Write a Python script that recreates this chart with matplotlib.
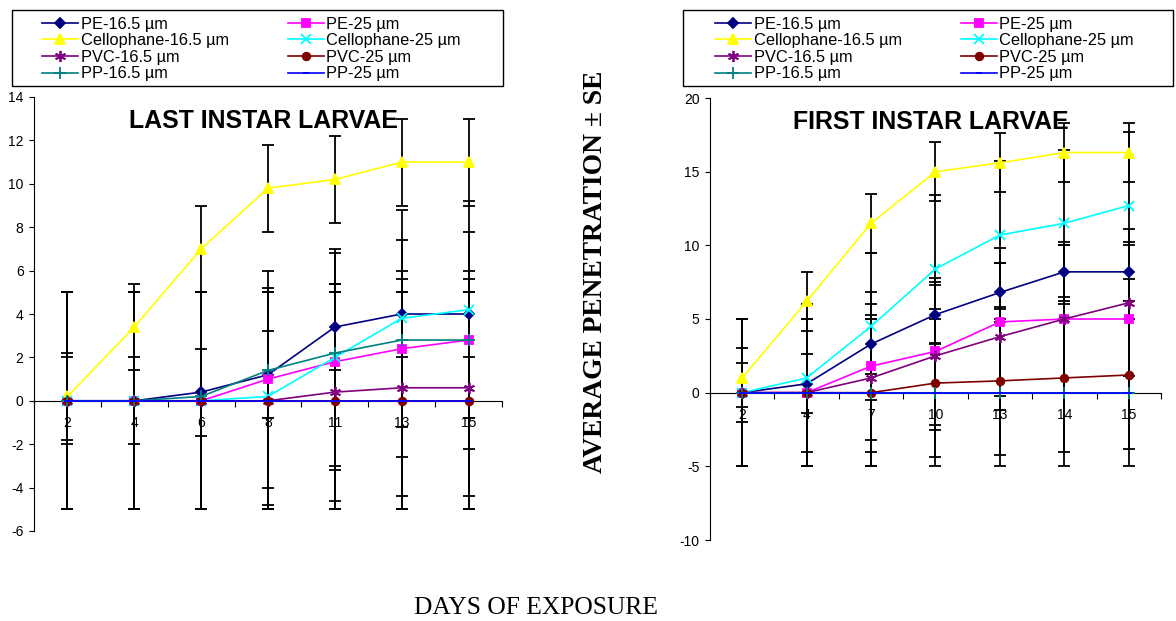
import matplotlib
matplotlib.use('Agg')
import matplotlib.pyplot as plt
import numpy as np
from matplotlib.patches import Rectangle

plt.rcParams['font.family'] = ['Liberation Sans', 'DejaVu Sans']
plt.rcParams['axes.unicode_minus'] = False

# series (Excel plot order)
series = ['PE-16.5 µm', 'PE-25 µm', 'Cellophane-16.5 µm', 'Cellophane-25 µm',
          'PVC-16.5 µm', 'PVC-25 µm', 'PP-16.5 µm', 'PP-25 µm']
colors = ['#000080', '#FF00FF', '#FFFF00', '#00FFFF',
          '#800080', '#800000', '#008080', '#0000FF']
markers = ['D', 's', '^', 'x', (6, 2, 0), 'o', '+', '_']
msizes = [5.5, 5.5, 7, 7, 8, 5.5, 8, 5]

# last instar larvae
last_days = ['2', '4', '6', '8', '11', '13', '15']
last_pe165 = [0, 0, 0.4, 1.2, 3.4, 4.0, 4.0]
last_pe25 = [0, 0, 0, 1.0, 1.8, 2.4, 2.8]
last_cel165 = [0.2, 3.4, 7.0, 9.8, 10.2, 11.0, 11.0]
last_cel25 = [0, 0, 0, 0.2, 2.0, 3.8, 4.2]
last_pvc165 = [0, 0, 0, 0, 0.4, 0.6, 0.6]
last_pvc25 = [0, 0, 0, 0, 0, 0, 0]
last_pp165 = [0, 0, 0.2, 1.4, 2.2, 2.8, 2.8]
last_pp25 = [0, 0, 0, 0, 0, 0, 0]
last_se = [2, 5, 2, 5, 5, 5, None, 5]

# first instar larvae
first_days = ['2', '4', '7', '10', '13', '14', '15']
first_pe165 = [0, 0.6, 3.3, 5.3, 6.8, 8.2, 8.2]
first_pe25 = [0, 0, 1.8, 2.8, 4.8, 5.0, 5.0]
first_cel165 = [1.0, 6.2, 11.5, 15.0, 15.6, 16.3, 16.3]
first_cel25 = [0, 1.0, 4.5, 8.4, 10.7, 11.5, 12.7]
first_pvc165 = [0, 0, 1.0, 2.5, 3.8, 5.0, 6.1]
first_pvc25 = [0, 0, 0, 0.65, 0.8, 1.0, 1.2]
first_pp165 = [0, 0, 0, 0, 0, 0, 0]
first_pp25 = [0, 0, 0, 0, 0, 0, 0]
first_se = [2, 5, 2, 5, 5, 5, None, 5]


def panel(ax, days, data, se, title, ylim, ystep):
    x = np.arange(len(days))
    for vals, s in zip(data, se):
        if s is None:
            continue
        ax.errorbar(x, vals, yerr=s, fmt='none', ecolor='black',
                    elinewidth=1.3, capsize=4.5, capthick=1.3, zorder=2)
    handles = []
    for vals, lab, c, m, ms in zip(data, series, colors, markers, msizes):
        h, = ax.plot(x, vals, color=c, marker=m, ms=ms, mew=1.3,
                     lw=1.2, label=lab, zorder=3)
        handles.append(h)
    ax.set_xlim(-0.5, len(days) - 0.5)
    ax.set_ylim(*ylim)
    ax.set_yticks(np.arange(ylim[0], ylim[1] + 0.1, ystep))
    ax.set_xticks(np.arange(-0.5, len(days), 1))
    ax.set_xticklabels([])
    ax.set_xticks(x, minor=True)
    ax.set_xticklabels(days, minor=True)
    ax.tick_params(axis='x', which='major', length=4, direction='out')
    ax.tick_params(axis='x', which='minor', length=0, pad=11, labelsize=10)
    ax.tick_params(axis='y', length=3.5, pad=4, labelsize=10)
    ax.spines['bottom'].set_position(('data', 0))
    ax.spines['top'].set_visible(False)
    ax.spines['right'].set_visible(False)
    ax.text(0.49, 0.945, title, transform=ax.transAxes, ha='center',
            va='center', fontsize=17.9, fontweight='bold')
    return handles


fig = plt.figure(figsize=(11.76, 6.21), dpi=100)
W, H = 1176, 621

ax1 = fig.add_axes([34 / W, 1 - 531 / H, 468 / W, 434 / H])
h1 = panel(ax1, last_days,
           [last_pe165, last_pe25, last_cel165, last_cel25,
            last_pvc165, last_pvc25, last_pp165, last_pp25],
           last_se, 'LAST INSTAR LARVAE', (-6, 14), 2)

ax2 = fig.add_axes([710 / W, 1 - 540 / H, 451 / W, 442 / H])
h2 = panel(ax2, first_days,
           [first_pe165, first_pe25, first_cel165, first_cel25,
            first_pvc165, first_pvc25, first_pp165, first_pp25],
           first_se, 'FIRST INSTAR LARVAE', (-10, 20), 5)

order = [0, 2, 4, 6, 1, 3, 5, 7]
for hs, hx, box in [(h1, 42, (12, 503)), (h2, 715, (683, 1173))]:
    fig.legend([hs[i] for i in order], [series[i] for i in order],
               loc='upper left', bbox_to_anchor=(hx / W, 1 - 16.5 / H),
               ncol=2, frameon=False, fontsize=11.8, borderpad=0,
               borderaxespad=0, handlelength=2.2, handletextpad=0.15,
               columnspacing=3.6, labelspacing=0.1)
    fig.patches.append(Rectangle((box[0] / W, 1 - 86 / H),
                                 (box[1] - box[0]) / W, 76 / H,
                                 transform=fig.transFigure, fill=False,
                                 edgecolor='black', lw=1))

fig.text(595 / W, 1 - 272 / H, 'AVERAGE PENETRATION ± SE', rotation=90,
         ha='center', va='center', fontsize=19.8, fontweight='bold',
         family=['Liberation Serif', 'DejaVu Serif'])
fig.text(536 / W, 1 - 608 / H, 'DAYS OF EXPOSURE', ha='center', va='center',
         fontsize=18.4, family=['Liberation Serif', 'DejaVu Serif'])

fig.savefig('out.png', dpi=100)
